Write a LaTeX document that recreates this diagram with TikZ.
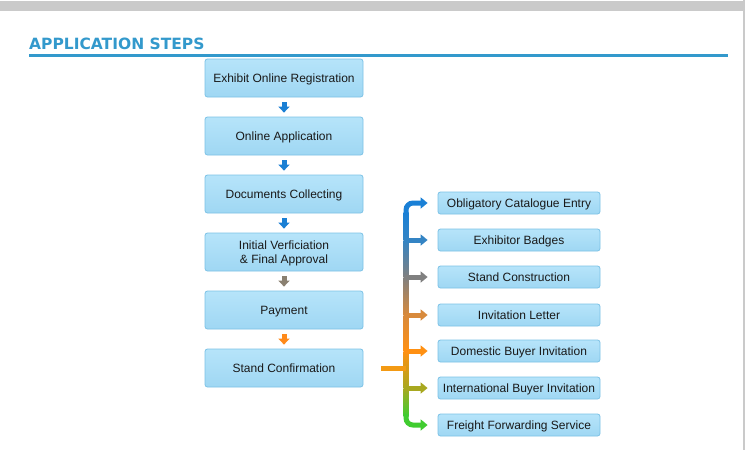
\documentclass[tikz,border=0pt]{standalone}
\usepackage{fontspec}
\setmainfont{Liberation Sans}
\newfontfamily\titlefont{DejaVu Sans}
\usetikzlibrary{arrows.meta}
\definecolor{titleblue}{HTML}{3399CC}
\definecolor{barGray}{HTML}{CACACA}
\definecolor{boxTop}{HTML}{B6E4FA}
\definecolor{boxBot}{HTML}{9FD7F3}
\definecolor{boxLine}{HTML}{7CC2E6}
\definecolor{cA}{HTML}{1A80D6}
\definecolor{cB}{HTML}{3484C4}
\definecolor{cC}{HTML}{808080}
\definecolor{cD}{HTML}{D88A3C}
\definecolor{cE}{HTML}{FF9012}
\definecolor{cF}{HTML}{A8A820}
\definecolor{cG}{HTML}{40CC30}
\definecolor{cStem}{HTML}{F39A14}
\definecolor{arBlue}{HTML}{1A7FD4}
\definecolor{arGray}{HTML}{8A8070}
\definecolor{arOrange}{HTML}{FF8A1A}
\tikzset{
  stepbox/.style={rectangle, rounded corners=2.5pt, draw=boxLine, line width=0.8pt,
    top color=boxTop, bottom color=boxBot, minimum width=158pt, minimum height=38pt,
    align=center, font=\fontsize{12pt}{14.5pt}\selectfont, text=black!90,
    inner sep=0pt, text depth=-1.5pt},
  sidebox/.style={stepbox, minimum width=162pt, minimum height=22pt},
  downarrow/.style={line width=5pt, -{Triangle[length=6pt,width=11pt]},
    shorten <=5pt, shorten >=4pt},
  armline/.style={line width=5pt, -{Triangle[length=7pt,width=11pt]}, shorten >=10pt},
}
\begin{document}
\begin{tikzpicture}[x=1pt,y=-1pt]
\useasboundingbox (0,0) rectangle (756,451);
\fill[white] (0,0) rectangle (756,451);
% top bar and right edge
\fill[barGray] (0,1) rectangle (743,11);
\fill[barGray] (742.5,0) rectangle (744.5,450);
% title
\node[anchor=base west, inner sep=0pt, text=titleblue,
  font=\titlefont\bfseries\fontsize{15.5pt}{17pt}\selectfont] (title) at (29,49.5) {APPLICATION STEPS};
\fill[titleblue] (29,54) rectangle (728,56.5);
% left steps
\node[stepbox] (b1) at (284,78) {Exhibit Online Registration};
\node[stepbox] (b2) at (284,136) {Online Application};
\node[stepbox] (b3) at (284,194) {Documents Collecting};
\node[stepbox] (b4) at (284,252) {Initial Verficiation\\\& Final Approval};
\node[stepbox] (b5) at (284,310) {Payment};
\node[stepbox] (b6) at (284,368) {Stand Confirmation};
\draw[downarrow, arBlue] (b1.south) -- (b2.north);
\draw[downarrow, arBlue] (b2.south) -- (b3.north);
\draw[downarrow, arBlue] (b3.south) -- (b4.north);
\draw[downarrow, arGray] (b4.south) -- (b5.north);
\draw[downarrow, arOrange] (b5.south) -- (b6.north);
% right boxes
\node[sidebox] (r1) at (519,203) {Obligatory Catalogue Entry};
\node[sidebox] (r2) at (519,240) {Exhibitor Badges};
\node[sidebox] (r3) at (519,277) {Stand Construction};
\node[sidebox] (r4) at (519,315) {Invitation Letter};
\node[sidebox] (r5) at (519,351) {Domestic Buyer Invitation};
\node[sidebox] (r6) at (519,388) {International Buyer Invitation};
\node[sidebox] (r7) at (519,425) {Freight Forwarding Service};
% bracket coordinates
\coordinate (k1) at (406,203);
\coordinate (k2) at (406,240);
\coordinate (k3) at (406,277);
\coordinate (k4) at (406,315);
\coordinate (k5) at (406,351);
\coordinate (k6) at (406,388);
\coordinate (k7) at (406,425);
\coordinate (s0) at (381,368);
\coordinate (s1) at (406,368);
% vertical gradient segments
\shade[top color=cA, bottom color=cB] (403.5,212) rectangle (408.5,240);
\shade[top color=cB, bottom color=cC] (403.5,240) rectangle (408.5,277);
\shade[top color=cC, bottom color=cD] (403.5,277) rectangle (408.5,315);
\shade[top color=cD, bottom color=cE] (403.5,315) rectangle (408.5,351);
\shade[top color=cE, bottom color=cF] (403.5,351) rectangle (408.5,388);
\shade[top color=cF, bottom color=cG] (403.5,388) rectangle (408.5,416);
% arms
\draw[armline, cA, rounded corners=7pt] (406,214) -- (k1) -- (r1.west);
\draw[armline, cB] (k2) -- (r2.west);
\draw[armline, cC] (k3) -- (r3.west);
\draw[armline, cD] (k4) -- (r4.west);
\draw[armline, cE] (k5) -- (r5.west);
\draw[armline, cF] (k6) -- (r6.west);
\draw[armline, cG, rounded corners=7pt] (406,414) -- (k7) -- (r7.west);
% stem from stand confirmation
\draw[line width=5pt, cStem] (s0) -- (s1);
\end{tikzpicture}
\end{document}
